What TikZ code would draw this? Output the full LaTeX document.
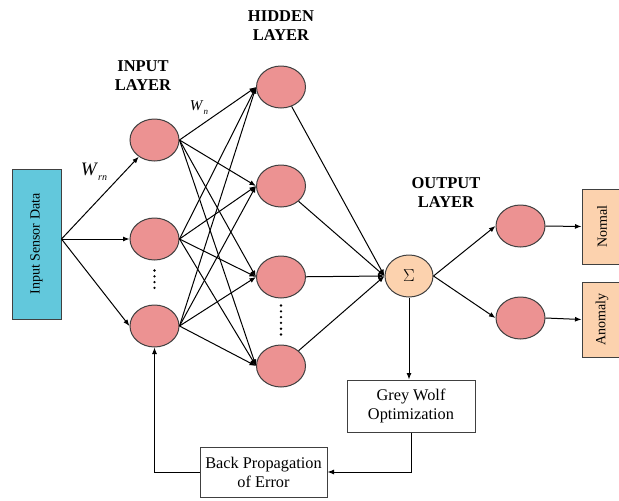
\documentclass[tikz,border=0pt]{standalone}
\usepackage{fontspec}
\setmainfont{Liberation Serif}
\usetikzlibrary{arrows.meta,shapes.geometric,positioning}
\definecolor{neuronpink}{RGB}{236,146,146}
\definecolor{peach}{RGB}{252,210,174}
\definecolor{sensorcyan}{RGB}{98,200,220}
\begin{document}
\begin{tikzpicture}[x=1pt,y=-1pt,line width=1pt,>={Latex[length=6.5pt,width=5pt]},
    neuron/.style={ellipse,draw=black!75,fill=neuronpink,minimum width=49pt,minimum height=42pt,inner sep=0pt},
    layerlabel/.style={align=center,font=\fontsize{16.5}{19}\selectfont\bfseries},
    procbox/.style={rectangle,draw=black!75,align=center,inner sep=0pt,font=\fontsize{16.3}{19}\selectfont},
    classbox/.style={rectangle,draw=black!75,fill=peach,minimum width=40pt,minimum height=75pt,inner sep=0pt,font=\fontsize{14}{16}\selectfont},
    dotcol/.style={line width=2.6pt,line cap=round,dash pattern=on 0pt off 5.8pt}]
  \useasboundingbox (0,0) rectangle (619,501);

  % input side
  \node (inbox) [rectangle,draw=black!75,fill=sensorcyan,minimum width=49pt,minimum height=150pt,inner sep=0pt,
                 font=\fontsize{14}{16}\selectfont] at (36.5,244) {\rotatebox{90}{Input Sensor Data}};
  \node (i2) [neuron] at (154.5,239) {};
  \node (i1) [neuron,above of=i2,node distance=99pt] {};
  \node (i3) [neuron,below of=i2,node distance=87pt] {};

  % hidden layer
  \node (h1) [neuron] at (281,87) {};
  \node (h2) [neuron,below of=h1,node distance=99pt] {};
  \node (h3) [neuron,below of=h2,node distance=91pt] {};
  \node (h4) [neuron,below of=h3,node distance=89pt] {};

  % output side
  \node (sum) [ellipse,draw=black!75,fill=peach,minimum width=48pt,minimum height=42pt,inner sep=0pt,
               font=\fontsize{17}{17}\selectfont] at (409,276) {$\Sigma$};
  \node (o1) [neuron] at (520.5,226) {};
  \node (o2) [neuron,below of=o1,node distance=92pt] {};
  \node (normal)  [classbox] at (602,226.5) {\rotatebox{90}{Normal}};
  \node (anomaly) [classbox] at (602,319.5) {\rotatebox{90}{Anomaly}};

  \node (gwo) [procbox,minimum width=128pt,minimum height=52pt] at (411,406) {Grey Wolf\\Optimization};
  \node (bp)  [procbox,minimum width=127pt,minimum height=50pt] at (263.5,472) {Back Propagation\\of Error};

  % labels
  \node (inlabel)  [layerlabel] at (143,76)  {INPUT\\LAYER};
  \node (hidlabel) [layerlabel] at (281,26)  {HIDDEN\\LAYER};
  \node (outlabel) [layerlabel] at (446,193) {OUTPUT\\LAYER};
  \node (wrn) at (94,172) {\fontsize{19}{19}\selectfont\textit{W}\raisebox{-0.6ex}{\fontsize{10}{10}\selectfont\textit{rn}}};
  \node (wn)  at (199,108) {\fontsize{15}{15}\selectfont\textit{W}\raisebox{-0.6ex}{\fontsize{9}{9}\selectfont\textit{n}}};

  % dots
  \draw[dotcol] ([yshift=-10pt]i2.south) -- ([yshift=12pt]i3.north);
  \draw[dotcol] ([yshift=-7pt]h3.south) -- ([yshift=8pt]h4.north);

  % connections
  \path (inbox.east |- i2) edge[->] (i1)
                           edge[->] (i2.west)
                           edge[->] (i3.west);
  \foreach \i in {1,2,3}
    \foreach \h in {1,2,3,4}
      \path (i\i.east) edge[->] (h\h.west);
  \foreach \h in {1,2,3,4}
    \path (h\h) edge[->] (sum.west);
  \path (sum.east) edge[->] (o1.west)
                   edge[->] (o2.west);
  \path (o1.east) edge[->] (normal.west);
  \path (o2.east) edge[->] (anomaly.west);

  % feedback loop
  \draw[->] (sum.south) -- (sum.south |- gwo.north);
  \draw[->] (gwo.south) |- (bp.east);
  \draw[->] (bp.west) -| (i3.south);
\end{tikzpicture}
\end{document}
